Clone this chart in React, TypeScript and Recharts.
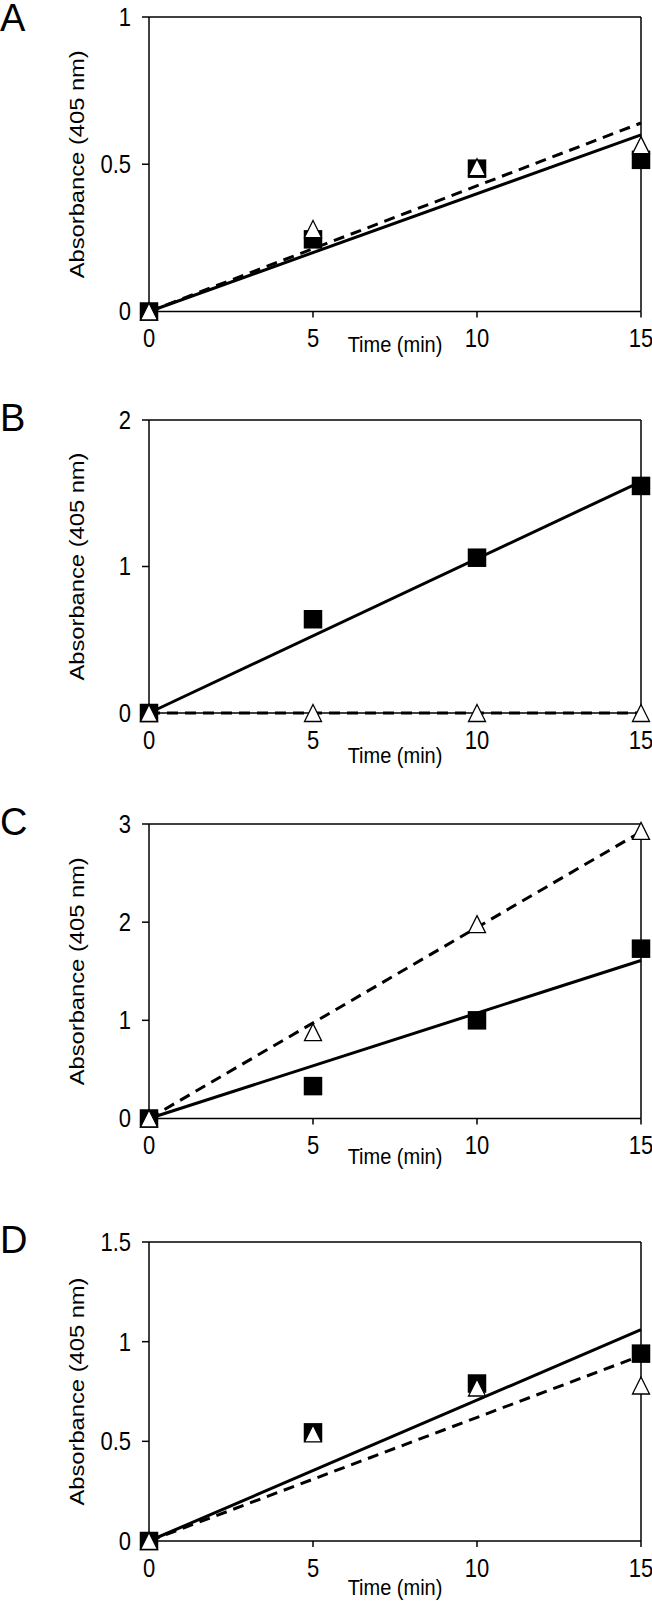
import { ComposedChart, Line, ReferenceLine, Scatter, XAxis, YAxis } from 'recharts'

const FONT = '"Liberation Sans", Arial, sans-serif'
// the source figure is a little stretched vertically
const STRETCH = 1.13

// sampling times (min) and fit line ends
const times = [0, 5, 10, 15]
const fitTimes = [0, 15]
const xTicks = [0, 5, 10, 15]

// panel A
const aSquares = [0, 0.245, 0.485, 0.515]
const aTriangles = [0, 0.28, 0.49, 0.565]
const aSolidFit = [0, 0.6]
const aDashedFit = [0, 0.64]
const aYTicks = [0, 0.5, 1]

// panel B
const bSquares = [0, 0.64, 1.06, 1.55]
const bTriangles = [0, 0, 0, 0]
const bSolidFit = [0, 1.58]
const bDashedFit = [0, 0]
const bYTicks = [0, 1, 2]

// panel C
const cSquares = [0, 0.33, 1.0, 1.73]
const cTriangles = [0, 0.88, 1.98, 2.93]
const cSolidFit = [0, 1.61]
const cDashedFit = [0, 2.92]
const cYTicks = [0, 1, 2, 3]

// panel D
const dSquares = [0, 0.545, 0.79, 0.94]
const dTriangles = [0, 0.54, 0.77, 0.78]
const dSolidFit = [0, 1.06]
const dDashedFit = [0, 0.93]
const dYTicks = [0, 0.5, 1, 1.5]

const toPoints = (xs: number[], ys: number[]) => xs.map((t, i) => ({ t, v: ys[i] }))

function SquareDot(props: any) {
  const { cx, cy } = props
  if (cx == null || cy == null) return null
  return <rect x={cx - 9.25} y={cy - 9.25} width={18.5} height={18.5} fill="#000" />
}

function TriangleDot(props: any) {
  const { cx, cy } = props
  if (cx == null || cy == null) return null
  return (
    <path
      d={`M${cx},${cy - 8.5} L${cx + 8.5},${cy + 8.5} L${cx - 8.5},${cy + 8.5} Z`}
      fill="#fff"
      stroke="#000"
      strokeWidth={1.3}
    />
  )
}

function XTick(props: any) {
  const { x, y, payload } = props
  const size = 22
  const base = y + 0.716 * size * STRETCH
  return (
    <text
      transform={`translate(${x} ${base}) scale(1 ${STRETCH})`}
      textAnchor="middle"
      fill="#000"
      fontSize={size}
      fontFamily={FONT}
    >
      {payload.value}
    </text>
  )
}

function YTick(props: any) {
  const { x, y, payload } = props
  const size = 22
  const base = y + (0.716 * size * STRETCH) / 2
  return (
    <text
      transform={`translate(${x} ${base}) scale(1 ${STRETCH})`}
      textAnchor="end"
      fill="#000"
      fontSize={size}
      fontFamily={FONT}
    >
      {payload.value}
    </text>
  )
}

function YTitle(props: any) {
  const vb = props.viewBox || { x: 0, y: 0, height: 0 }
  const x = vb.x + 77
  const y = vb.y + vb.height / 2
  return (
    <text
      transform={`translate(${x} ${y}) rotate(-90) scale(${STRETCH} 1)`}
      textAnchor="middle"
      dominantBaseline="central"
      fill="#000"
      fontSize={21}
      fontFamily={FONT}
    >
      Absorbance (405 nm)
    </text>
  )
}

function XTitle(props: any) {
  const vb = props.viewBox || { x: 0, y: 0, width: 0 }
  const x = vb.x + vb.width / 2
  const y = vb.y + props.gap
  return (
    <text
      transform={`translate(${x} ${y}) scale(1 ${STRETCH})`}
      textAnchor="middle"
      fill="#000"
      fontSize={20}
      fontFamily={FONT}
    >
      Time (min)
    </text>
  )
}

type PanelProps = {
  letter: string
  squares: number[]
  triangles: number[]
  solidFit: number[]
  dashedFit: number[]
  yTicks: number[]
  plotTop: number
  plotBottom: number
  titleGap: number
  letterTop?: number
}

function Panel({
  letter,
  squares,
  triangles,
  solidFit,
  dashedFit,
  yTicks,
  plotTop,
  plotBottom,
  titleGap,
  letterTop = 3,
}: PanelProps) {
  const yMax = yTicks[yTicks.length - 1]
  const top = plotTop - 20
  const height = plotBottom - plotTop + 20 + 60
  const axisStyle = { stroke: '#000', strokeWidth: 1.5 }

  return (
    <div style={{ position: 'absolute', left: 0, top, width: 652, height }}>
      <div
        style={{
          position: 'absolute',
          left: 0,
          top: letterTop,
          fontFamily: FONT,
          fontSize: 38,
          lineHeight: '30px',
          color: '#000',
        }}
      >
        {letter}
      </div>
      <ComposedChart width={652} height={height} margin={{ top: 20, right: 11, bottom: 0, left: 0 }}>
        <XAxis
          type="number"
          dataKey="t"
          domain={[0, 15]}
          ticks={xTicks}
          height={60}
          tickSize={6}
          tickMargin={12}
          axisLine={axisStyle}
          tickLine={axisStyle}
          tick={<XTick />}
          label={<XTitle gap={titleGap} />}
        />
        <YAxis
          type="number"
          domain={[0, yMax]}
          ticks={yTicks}
          width={149}
          tickSize={7}
          tickMargin={11}
          axisLine={axisStyle}
          tickLine={axisStyle}
          tick={<YTick />}
          label={<YTitle />}
        />
        <ReferenceLine y={yMax} stroke="#000" strokeWidth={1.5} />
        <ReferenceLine x={15} stroke="#000" strokeWidth={1.5} />
        <Line
          data={toPoints(fitTimes, solidFit)}
          dataKey="v"
          type="linear"
          stroke="#000"
          strokeWidth={3}
          dot={false}
          activeDot={false}
          isAnimationActive={false}
        />
        <Line
          data={toPoints(fitTimes, dashedFit)}
          dataKey="v"
          type="linear"
          stroke="#000"
          strokeWidth={3}
          strokeDasharray="11 7"
          dot={false}
          activeDot={false}
          isAnimationActive={false}
        />
        <Scatter data={toPoints(times, squares)} dataKey="v" shape={<SquareDot />} isAnimationActive={false} />
        <Scatter data={toPoints(times, triangles)} dataKey="v" shape={<TriangleDot />} isAnimationActive={false} />
      </ComposedChart>
    </div>
  )
}

export default function App() {
  return (
    <div style={{ position: 'absolute', left: 0, top: 0, width: 652, height: 1601, background: '#fff' }}>
      <Panel letter="A" squares={aSquares} triangles={aTriangles} solidFit={aSolidFit} dashedFit={aDashedFit} yTicks={aYTicks} plotTop={17} plotBottom={311.5} titleGap={40} letterTop={6} />
      <Panel letter="B" squares={bSquares} triangles={bTriangles} solidFit={bSolidFit} dashedFit={bDashedFit} yTicks={bYTicks} plotTop={420} plotBottom={713} titleGap={50} />
      <Panel letter="C" squares={cSquares} triangles={cTriangles} solidFit={cSolidFit} dashedFit={cDashedFit} yTicks={cYTicks} plotTop={823.5} plotBottom={1118} titleGap={45} />
      <Panel letter="D" squares={dSquares} triangles={dTriangles} solidFit={dSolidFit} dashedFit={dDashedFit} yTicks={dYTicks} plotTop={1242} plotBottom={1541} titleGap={54} />
    </div>
  )
}
